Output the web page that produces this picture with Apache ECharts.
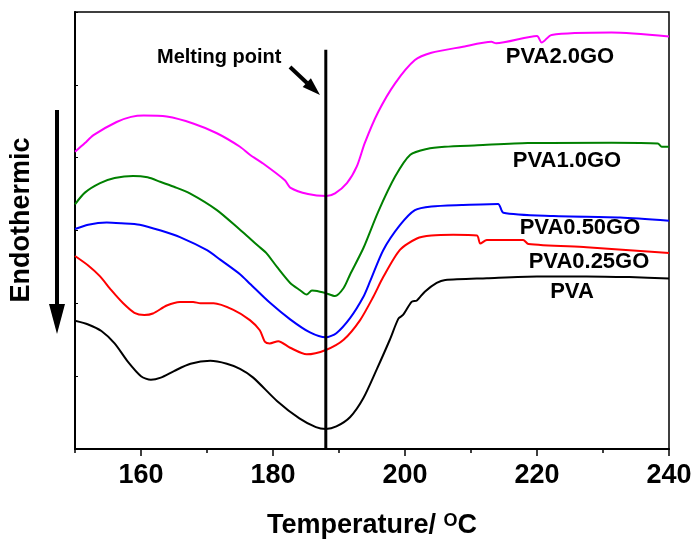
<!DOCTYPE html>
<html>
<head>
<meta charset="utf-8">
<script src="https://cdn.jsdelivr.net/npm/echarts@6/dist/echarts.min.js"></script>
<style>
  html, body { margin: 0; padding: 0; background: #fff; }
  #chart { width: 695px; height: 539px; }
</style>
</head>
<body>
<div id="chart"></div>
<script>
// x ticks (°C)
const majorTicks = [160, 180, 200, 220, 240];
const minorTicks = [150, 170, 190, 210, 230];
const meltingPoint = 188;

// DSC curves, [temperature, heat flow in arbitrary units]
const pva = [[150, 1.76], [152, 1.71], [154, 1.62], [156, 1.45], [158, 1.2], [160, 1.0], [161.5, 0.95],
  [163, 0.98], [165, 1.07], [167.5, 1.17], [170.5, 1.21], [173, 1.17], [175, 1.1], [177, 0.98],
  [180.6, 0.66], [184, 0.42], [186.5, 0.3], [188, 0.275], [189.6, 0.31], [191.7, 0.44], [193.7, 0.7],
  [195.7, 1.09], [197.7, 1.5], [199, 1.79], [199.7, 1.84], [201, 2.02], [201.8, 2.04], [203, 2.16],
  [204.8, 2.28], [206.1, 2.32], [212.4, 2.345], [220, 2.37], [227.5, 2.37], [234, 2.36], [240, 2.34]];

const pva025 = [[150, 2.65], [152, 2.52], [153.8, 2.37], [155.5, 2.18], [157.3, 2.0], [159, 1.87],
  [160.5, 1.84], [161.8, 1.86], [163.9, 1.97], [165.9, 2.02], [167.9, 2.02], [169, 2.0], [171, 2.0],
  [174, 1.91], [176.5, 1.77], [178, 1.63], [178.8, 1.47], [179.5, 1.45], [180.8, 1.48], [182.6, 1.39],
  [185.1, 1.3], [188, 1.36], [190.7, 1.5], [193.2, 1.77], [195.2, 2.09], [196.7, 2.36], [199.2, 2.73],
  [201.8, 2.89], [204, 2.93], [207.3, 2.94], [210.9, 2.93], [211.4, 2.82], [212.4, 2.87],
  [217.9, 2.87], [218.7, 2.815], [227.5, 2.77], [234, 2.73], [240, 2.69]];

const pva050 = [[150, 3.02], [152, 3.08], [154.8, 3.11], [157, 3.1], [159.8, 3.08], [163, 3.0],
  [165.9, 2.91], [170, 2.73], [172, 2.6], [175, 2.4], [176.5, 2.27], [179.5, 2.01], [182.6, 1.78],
  [185.6, 1.6], [188, 1.533], [189.6, 1.59], [191.7, 1.8], [193.7, 2.09], [194.7, 2.3], [196.7, 2.73],
  [199.2, 3.07], [201.5, 3.28], [204, 3.33], [208.6, 3.35], [214.1, 3.365], [214.9, 3.245],
  [222.5, 3.2], [232.6, 3.18], [240, 3.135]];

const pva10 = [[150, 3.36], [151.5, 3.52], [153.8, 3.65], [156, 3.72], [158.8, 3.75], [161, 3.73],
  [162.9, 3.67], [165, 3.6], [167.4, 3.51], [171.5, 3.28], [175, 3.01], [176.5, 2.89], [178, 2.77],
  [179, 2.69], [180.6, 2.5], [182.6, 2.28], [184.1, 2.18], [185.1, 2.12], [185.9, 2.175],
  [187.1, 2.16], [188, 2.14], [189.4, 2.1], [190.7, 2.21], [191.7, 2.4], [193.7, 2.76], [195.9, 3.25],
  [198.5, 3.74], [200.8, 4.04], [203.3, 4.12], [206, 4.15], [211, 4.17], [218.6, 4.2], [231.3, 4.205],
  [238.3, 4.195], [238.9, 4.15], [240, 4.15]];

const pva20 = [[150, 4.08], [151.5, 4.2], [152.8, 4.31], [156.3, 4.49], [158.5, 4.56], [160.4, 4.58],
  [163.9, 4.565], [167.9, 4.47], [171.5, 4.335], [175, 4.15], [176.5, 4.04], [178.5, 3.92],
  [181.8, 3.69], [182.6, 3.59], [185.3, 3.5], [188.1, 3.474], [189.4, 3.51], [191.2, 3.65],
  [192.7, 3.88], [193.9, 4.2], [195.9, 4.62], [198.5, 5.02], [201.5, 5.34], [204, 5.44], [208.6, 5.52],
  [213.1, 5.59], [213.8, 5.57], [220, 5.67], [220.7, 5.58], [222.2, 5.685], [231.3, 5.717], [240, 5.662]];

const FONT = '"Liberation Sans", Arial, sans-serif';

const chart = echarts.init(document.getElementById('chart'), null, { renderer: 'canvas' });

function curve(name, data, color) {
  return {
    name: name,
    type: 'line',
    data: data,
    smooth: 0.25,
    showSymbol: false,
    symbol: 'none',
    lineStyle: { color: color, width: 2 },
    z: 3,
  };
}

function label(text, x, y) {
  return {
    type: 'text',
    x: x,
    y: y,
    style: {
      text: text,
      font: 'bold 22px ' + FONT,
      fill: '#000',
      align: 'center',
      verticalAlign: 'middle',
      textAlign: 'center',
      textVerticalAlign: 'middle',
    },
    z: 10,
  };
}

chart.setOption({
  animation: false,
  backgroundColor: '#fff',
  grid: {
    left: 75,
    right: 26,
    top: 12,
    bottom: 90,
    outerBoundsMode: 'none',
    containLabel: false,
    show: true,
    borderColor: '#000',
    borderWidth: 1.5,
  },
  xAxis: [
    {
      type: 'value',
      min: 150,
      max: 240,
      position: 'bottom',
      axisLine: { show: true, onZero: false, lineStyle: { color: '#000', width: 2 } },
      axisTick: { show: true, inside: false, length: 7, customValues: majorTicks, lineStyle: { color: '#000', width: 1.5 } },
      axisLabel: {
        customValues: majorTicks,
        margin: 13,
        color: '#000',
        fontSize: 27,
        fontWeight: 'bold',
        fontFamily: FONT,
      },
      splitLine: { show: false },
      name: '{a|Temperature/ }{s|O}{a|C}',
      nameLocation: 'middle',
      nameGap: 63,
      nameTextStyle: {
        rich: {
          a: { fontSize: 27, fontWeight: 'bold', fontFamily: FONT, color: '#000', verticalAlign: 'bottom' },
          s: { fontSize: 18, fontWeight: 'bold', fontFamily: FONT, color: '#000', verticalAlign: 'top' },
        },
      },
    },
    {
      type: 'value',
      min: 150,
      max: 240,
      position: 'bottom',
      offset: 0,
      axisLine: { show: false },
      axisTick: { show: true, inside: false, length: 4, customValues: minorTicks, lineStyle: { color: '#000', width: 1.5 } },
      axisLabel: { show: false },
      splitLine: { show: false },
    },
  ],
  yAxis: {
    type: 'value',
    min: 0,
    max: 6,
    interval: 1,
    axisLine: { show: true, onZero: false, lineStyle: { color: '#000', width: 2 } },
    axisTick: { show: true, inside: true, length: 3, lineStyle: { color: '#000', width: 1 } },
    axisLabel: { show: false },
    splitLine: { show: false },
  },
  series: [
    curve('PVA', pva, '#000000'),
    curve('PVA0.25GO', pva025, '#ff0000'),
    curve('PVA0.50GO', pva050, '#0000ff'),
    curve('PVA1.0GO', pva10, '#008000'),
    curve('PVA2.0GO', pva20, '#ff00ff'),
    {
      name: 'Melting point',
      type: 'line',
      data: [[meltingPoint, 0], [meltingPoint, 5.48]],
      showSymbol: false,
      symbol: 'none',
      lineStyle: { color: '#000', width: 3 },
      z: 4,
    },
  ],
  graphic: [
    {
      type: 'text',
      x: 22,
      y: 220,
      rotation: Math.PI / 2,
      style: {
        text: 'Endothermic',
        font: 'bold 27px ' + FONT,
        fill: '#000',
        align: 'center',
        verticalAlign: 'middle',
        textAlign: 'center',
        textVerticalAlign: 'middle',
      },
    },
    { type: 'line', shape: { x1: 57, y1: 110, x2: 57, y2: 308 }, style: { stroke: '#000', lineWidth: 4 } },
    { type: 'polygon', shape: { points: [[49, 304], [65, 304], [57, 334]] }, style: { fill: '#000' } },
    {
      type: 'text',
      x: 157,
      y: 57,
      style: {
        text: 'Melting point',
        font: 'bold 20px ' + FONT,
        fill: '#000',
        align: 'left',
        verticalAlign: 'middle',
        textAlign: 'left',
        textVerticalAlign: 'middle',
      },
    },
    { type: 'line', shape: { x1: 290, y1: 67, x2: 307, y2: 83 }, style: { stroke: '#000', lineWidth: 4 } },
    { type: 'polygon', shape: { points: [[302.7, 87.1], [310.9, 78.3], [320, 95]] }, style: { fill: '#000' } },
    label('PVA2.0GO', 560, 57),
    label('PVA1.0GO', 567, 161),
    label('PVA0.50GO', 580, 228),
    label('PVA0.25GO', 589, 262),
    label('PVA', 572, 292),
  ],
});
</script>
</body>
</html>
